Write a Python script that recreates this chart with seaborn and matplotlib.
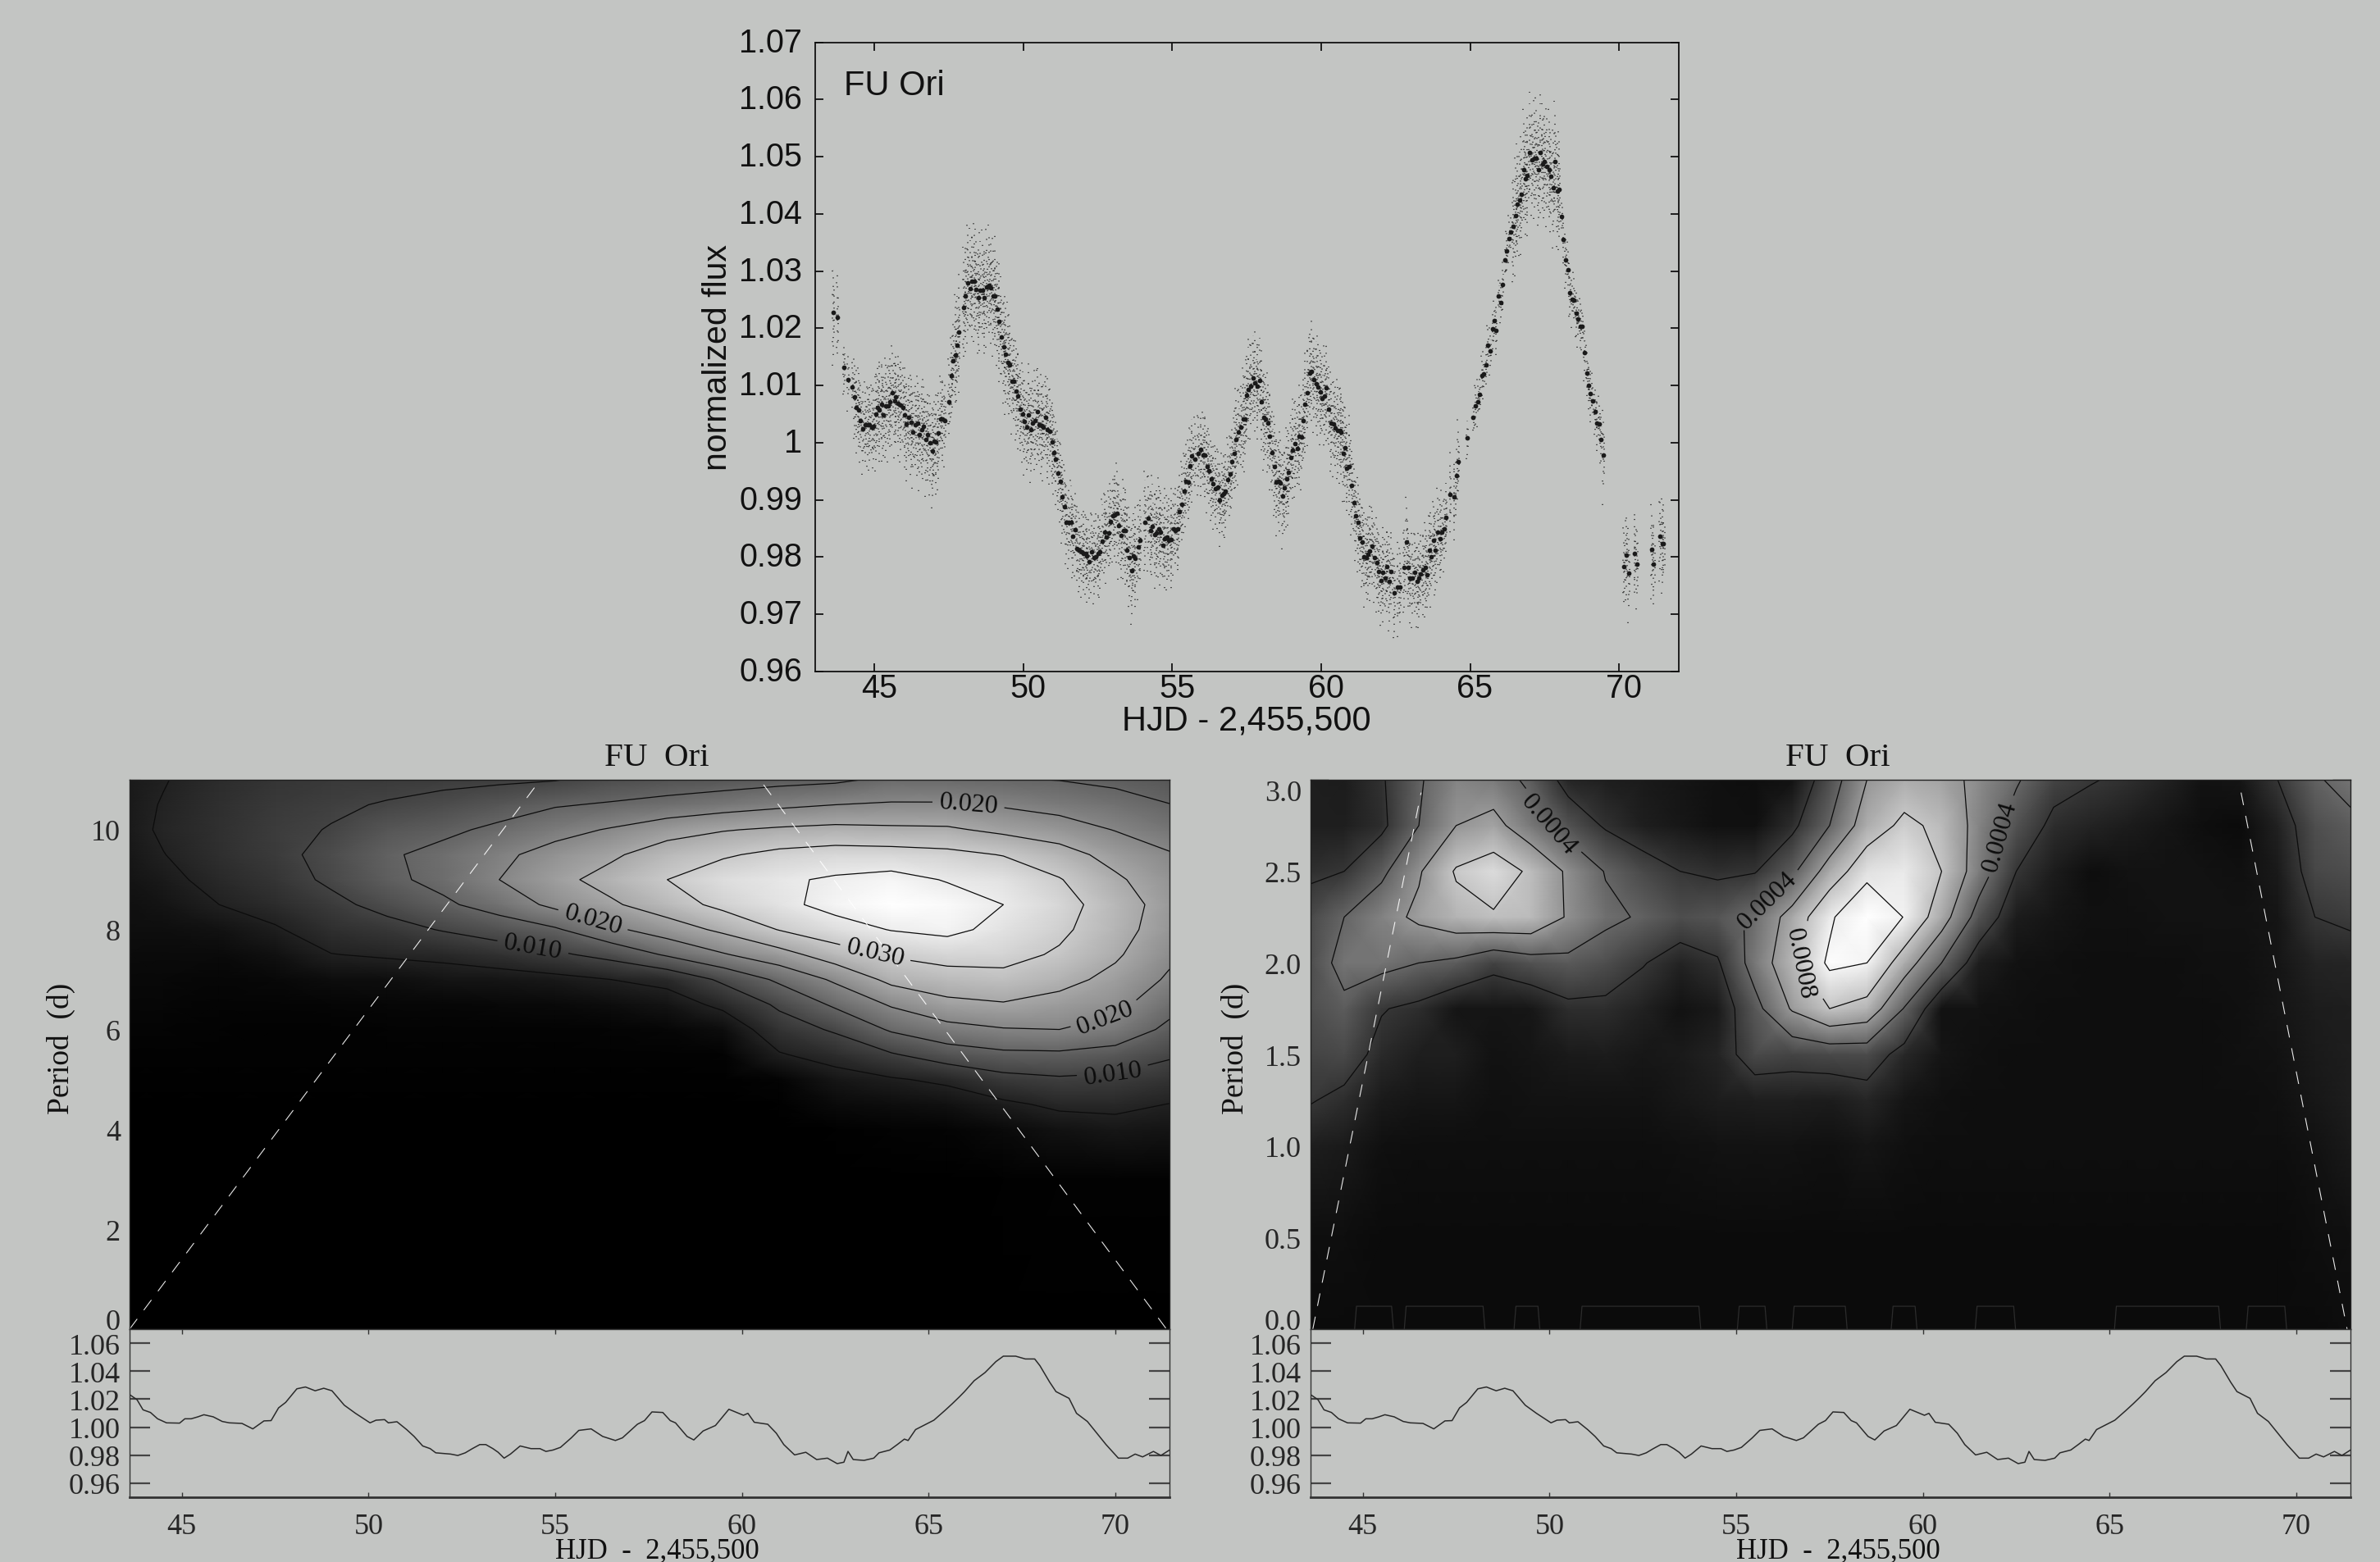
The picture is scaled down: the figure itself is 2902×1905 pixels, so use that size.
import numpy as np
import matplotlib
matplotlib.use("Agg")
import matplotlib.pyplot as plt
import matplotlib.transforms as mtrans
from matplotlib.ticker import MultipleLocator
import seaborn as sns

# binned light curve, top panel
flux_day = [43.61, 43.76, 43.97, 44.11, 44.26, 44.33, 44.40, 44.46, 44.53, 44.61, 44.69, 44.76, 44.83, 44.90, 44.97,
            45.04, 45.10, 45.17, 45.25, 45.30, 45.38, 45.45, 45.52, 45.60, 45.67, 45.72, 45.80, 45.87, 45.95,
            46.02, 46.08, 46.16, 46.22, 46.29, 46.37, 46.44, 46.51, 46.59, 46.64, 46.72, 46.79, 46.86, 46.94, 46.99,
            47.07, 47.14, 47.21, 47.29, 47.36, 47.50, 47.57, 47.63, 47.71, 47.77, 47.84, 47.99,
            48.06, 48.13, 48.22, 48.28, 48.35, 48.40, 48.48, 48.55, 48.63, 48.69, 48.76, 48.84, 48.91, 48.98,
            49.05, 49.12, 49.19, 49.26, 49.33, 49.40, 49.47, 49.53, 49.61, 49.68, 49.75, 49.82, 49.89, 49.97,
            50.03, 50.10, 50.18, 50.24, 50.31, 50.39, 50.46, 50.53, 50.61, 50.67, 50.74, 50.81, 50.88, 50.96,
            51.02, 51.09, 51.16, 51.23, 51.30, 51.37, 51.44, 51.52, 51.59, 51.65, 51.73, 51.80, 51.87, 51.95,
            52.02, 52.09, 52.13, 52.21, 52.29, 52.37, 52.44, 52.52, 52.57, 52.64, 52.72, 52.79, 52.87, 52.92,
            53.00, 53.07, 53.13, 53.20, 53.28, 53.35, 53.43, 53.48, 53.55, 53.64, 53.69, 53.76, 53.85, 53.92,
            54.07, 54.18, 54.26, 54.33, 54.42, 54.47, 54.54, 54.60, 54.67, 54.75, 54.81, 54.89, 54.97,
            55.04, 55.11, 55.19, 55.23, 55.31, 55.39, 55.46, 55.53, 55.59, 55.66, 55.75, 55.87, 55.96,
            56.03, 56.10, 56.16, 56.23, 56.30, 56.37, 56.44, 56.52, 56.59, 56.66, 56.73, 56.78, 56.86, 56.93,
            57.00, 57.07, 57.14, 57.22, 57.30, 57.37, 57.44, 57.49, 57.56, 57.62, 57.70, 57.78, 57.86, 57.92,
            58.00, 58.06, 58.12, 58.21, 58.27, 58.34, 58.42, 58.49, 58.56, 58.62, 58.70, 58.77, 58.83, 58.90, 58.98,
            59.04, 59.11, 59.19, 59.26, 59.34, 59.40, 59.46, 59.54, 59.60, 59.68, 59.74, 59.82, 59.89, 59.96,
            60.02, 60.10, 60.17, 60.24, 60.33, 60.40, 60.47, 60.55, 60.62, 60.67, 60.74, 60.79, 60.86, 60.94,
            61.01, 61.10, 61.15, 61.23, 61.30, 61.36, 61.44, 61.50, 61.57, 61.63, 61.70, 61.79, 61.86, 61.93,
            62.01, 62.07, 62.14, 62.21, 62.28, 62.35, 62.44, 62.57, 62.64, 62.78, 62.85, 62.91, 62.98,
            63.05, 63.13, 63.21, 63.27, 63.34, 63.42, 63.48, 63.55, 63.62, 63.69, 63.76, 63.82, 63.90, 63.98,
            64.05, 64.12, 64.19, 64.33, 64.47, 64.54, 64.60, 64.89,
            65.10, 65.17, 65.25, 65.31, 65.38, 65.45, 65.52, 65.59, 65.66, 65.74, 65.81, 65.87, 65.94,
            66.02, 66.09, 66.15, 66.22, 66.29, 66.37, 66.43, 66.51, 66.58, 66.65, 66.72, 66.79, 66.86, 66.92,
            67.00, 67.07, 67.15, 67.21, 67.28, 67.36, 67.42, 67.49, 67.57, 67.64, 67.70, 67.78, 67.84, 67.92, 67.98,
            68.05, 68.13, 68.20, 68.27, 68.34, 68.41, 68.48, 68.55, 68.62, 68.69, 68.75, 68.83, 68.91, 68.98,
            69.04, 69.11, 69.18, 69.26, 69.33, 69.39, 69.47,
            70.16, 70.24, 70.31, 70.52, 70.60, 71.08, 71.16, 71.37, 71.44, 71.49]
flux_value = [1.0228, 1.0219, 1.0132, 1.0111, 1.0098, 1.0080, 1.0062, 1.0057, 1.0038, 1.0025, 1.0032, 1.0031, 1.0032, 1.0027, 1.0028,
              1.0050, 1.0061, 1.0058, 1.0067, 1.0049, 1.0065, 1.0065, 1.0071, 1.0087, 1.0073, 1.0080, 1.0069, 1.0066, 1.0062,
              1.0049, 1.0033, 1.0044, 1.0036, 1.0019, 1.0032, 1.0034, 1.0015, 1.0023, 1.0029, 1.0006, 1.0014, 1.0000, 0.9985, 1.0003,
              1.0001, 1.0017, 1.0042, 1.0041, 1.0038, 1.0072, 1.0117, 1.0143, 1.0154, 1.0171, 1.0193, 1.0236,
              1.0257, 1.0280, 1.0269, 1.0282, 1.0283, 1.0268, 1.0254, 1.0267, 1.0267, 1.0254, 1.0273, 1.0275, 1.0271, 1.0257,
              1.0256, 1.0233, 1.0212, 1.0185, 1.0167, 1.0155, 1.0140, 1.0136, 1.0108, 1.0108, 1.0090, 1.0082, 1.0059, 1.0050,
              1.0037, 1.0027, 1.0049, 1.0023, 1.0034, 1.0038, 1.0055, 1.0031, 1.0030, 1.0027, 1.0045, 1.0023, 1.0020, 1.0002,
              0.9983, 0.9972, 0.9947, 0.9933, 0.9905, 0.9888, 0.9861, 0.9861, 0.9861, 0.9836, 0.9848, 0.9815, 0.9812, 0.9810,
              0.9806, 0.9807, 0.9802, 0.9792, 0.9810, 0.9799, 0.9801, 0.9806, 0.9810, 0.9828, 0.9844, 0.9835, 0.9842, 0.9862,
              0.9872, 0.9874, 0.9876, 0.9855, 0.9838, 0.9847, 0.9846, 0.9812, 0.9799, 0.9776, 0.9802, 0.9798, 0.9818, 0.9829,
              0.9861, 0.9868, 0.9847, 0.9854, 0.9839, 0.9842, 0.9850, 0.9844, 0.9821, 0.9832, 0.9835, 0.9829, 0.9831,
              0.9849, 0.9846, 0.9850, 0.9879, 0.9893, 0.9915, 0.9933, 0.9931, 0.9960, 0.9977, 0.9971, 0.9981, 0.9988,
              0.9979, 0.9978, 0.9958, 0.9951, 0.9937, 0.9929, 0.9920, 0.9922, 0.9899, 0.9908, 0.9911, 0.9915, 0.9935, 0.9945,
              0.9967, 0.9982, 1.0006, 1.0019, 1.0027, 1.0042, 1.0042, 1.0083, 1.0093, 1.0099, 1.0113, 1.0105, 1.0099, 1.0109,
              1.0072, 1.0045, 1.0041, 1.0034, 1.0011, 0.9983, 0.9958, 0.9931, 0.9933, 0.9930, 0.9907, 0.9921, 0.9937, 0.9949, 0.9974,
              0.9987, 0.9998, 0.9990, 1.0012, 1.0010, 1.0039, 1.0068, 1.0088, 1.0122, 1.0124, 1.0111, 1.0103, 1.0098, 1.0089,
              1.0077, 1.0081, 1.0096, 1.0059, 1.0035, 1.0033, 1.0026, 1.0022, 1.0022, 1.0018, 0.9982, 0.9991, 0.9956, 0.9959,
              0.9925, 0.9896, 0.9872, 0.9861, 0.9834, 0.9826, 0.9800, 0.9799, 0.9805, 0.9811, 0.9820, 0.9799, 0.9791, 0.9775,
              0.9759, 0.9774, 0.9764, 0.9784, 0.9758, 0.9775, 0.9738, 0.9747, 0.9747, 0.9782, 0.9826, 0.9782, 0.9764,
              0.9763, 0.9774, 0.9757, 0.9763, 0.9770, 0.9778, 0.9782, 0.9769, 0.9812, 0.9800, 0.9829, 0.9812, 0.9843, 0.9832,
              0.9844, 0.9849, 0.9870, 0.9910, 0.9905, 0.9942, 0.9967, 1.0009,
              1.0044, 1.0065, 1.0071, 1.0085, 1.0117, 1.0120, 1.0136, 1.0170, 1.0161, 1.0199, 1.0213, 1.0197, 1.0256,
              1.0245, 1.0276, 1.0320, 1.0335, 1.0357, 1.0368, 1.0379, 1.0397, 1.0417, 1.0424, 1.0435, 1.0478, 1.0462, 1.0468,
              1.0508, 1.0495, 1.0497, 1.0498, 1.0477, 1.0508, 1.0487, 1.0491, 1.0483, 1.0478, 1.0466, 1.0446, 1.0492, 1.0440, 1.0443,
              1.0395, 1.0356, 1.0320, 1.0303, 1.0262, 1.0251, 1.0249, 1.0226, 1.0216, 1.0204, 1.0204, 1.0157, 1.0122, 1.0100,
              1.0086, 1.0073, 1.0055, 1.0035, 1.0033, 1.0006, 0.9978,
              0.9783, 0.9804, 0.9772, 0.9806, 0.9788, 0.9813, 0.9788, 0.9837, 0.9823, 0.9823]

# scatter half width of the unbinned photometry, per stretch of days
cloud_edges = [43.5, 43.9, 44.3, 45.0, 47.2, 47.7, 49.5, 51.0, 53.0, 55.0, 57.0, 58.5, 61.0, 64.0, 64.7, 65.0, 66.4, 68.0, 69.45, 72.0]
cloud_half = [0.0075, 0.0045, 0.0065, 0.0080, 0.0065, 0.0085, 0.0075, 0.0065, 0.0075, 0.0065, 0.0075, 0.0075, 0.0070, 0.0060, 0.0030, 0.0035, 0.0085, 0.0040, 0.0070]

# smoothed curve, strips under the power maps
strip_day = [43.61, 43.80, 43.96, 44.16, 44.35, 44.59, 44.94, 45.08, 45.25, 45.43, 45.59, 45.84, 46.08, 46.27, 46.61, 46.90,
             47.20, 47.39, 47.59, 47.78, 48.08, 48.31, 48.57, 48.80, 49.02, 49.35, 49.65, 50.04, 50.20, 50.43, 50.53, 50.76,
             51.02, 51.22, 51.45, 51.65, 51.80, 52.20, 52.39, 52.59, 52.78, 52.98, 53.14, 53.33, 53.47, 53.63, 53.80, 54.06,
             54.35, 54.59, 54.75, 54.94, 55.14, 55.43, 55.63, 55.96, 56.27, 56.61, 56.80, 57.20, 57.39, 57.59, 57.88, 58.08,
             58.22, 58.53, 58.71, 58.96, 59.29, 59.65, 60.04, 60.16, 60.33, 60.69, 60.92, 61.12, 61.41, 61.71, 62.00, 62.29,
             62.55, 62.73, 62.84, 62.98, 63.27, 63.53, 63.67, 63.96, 64.16, 64.35, 64.45, 64.65, 65.14, 65.43, 65.63, 65.82,
             65.96, 66.22, 66.51, 66.80, 67.00, 67.33, 67.59, 67.84, 67.98, 68.24, 68.41, 68.76, 68.96, 69.25, 69.75, 70.08,
             70.33, 70.53, 70.73, 71.02, 71.22, 71.45]
strip_value = [1.0231, 1.0196, 1.0124, 1.0105, 1.0060, 1.0031, 1.0029, 1.0060, 1.0060, 1.0074, 1.0089, 1.0074, 1.0041, 1.0031, 1.0027, 0.9988,
               1.0045, 1.0047, 1.0138, 1.0177, 1.0274, 1.0287, 1.0260, 1.0278, 1.0260, 1.0157, 1.0099, 1.0031, 1.0050, 1.0054, 1.0031, 1.0039,
               0.9983, 0.9934, 0.9866, 0.9847, 0.9817, 0.9808, 0.9798, 0.9817, 0.9847, 0.9876, 0.9876, 0.9847, 0.9821, 0.9779, 0.9808, 0.9866,
               0.9847, 0.9847, 0.9827, 0.9837, 0.9856, 0.9924, 0.9977, 0.9988, 0.9934, 0.9905, 0.9924, 1.0021, 1.0047, 1.0109, 1.0105, 1.0047,
               1.0031, 0.9934, 0.9909, 0.9973, 1.0012, 1.0128, 1.0085, 1.0099, 1.0035, 1.0021, 0.9957, 0.9876, 0.9802, 0.9821, 0.9769, 0.9779,
               0.9740, 0.9750, 0.9827, 0.9769, 0.9763, 0.9779, 0.9817, 0.9837, 0.9876, 0.9915, 0.9905, 0.9983, 1.0050, 1.0118, 1.0167, 1.0216,
               1.0254, 1.0332, 1.0390, 1.0468, 1.0507, 1.0507, 1.0487, 1.0487, 1.0439, 1.0322, 1.0254, 1.0206, 1.0099, 1.0041, 0.9876, 0.9779,
               0.9779, 0.9808, 0.9788, 0.9827, 0.9798, 0.9837]

# long period map, power in units of 1e-3, one list per day column
long_day = [43.6, 44.5, 46.0, 47.5, 49.0, 50.5, 52.0, 53.5, 55.0, 56.5, 58.0, 59.5, 61.0, 62.5, 64.0, 65.5, 67.0, 68.5, 70.0, 71.45]
long_period = [0, 3, 4, 4.5, 5, 5.5, 6, 6.5, 7, 7.5, 8, 8.5, 9, 9.5, 10, 10.5, 11]
long_power = [
    [0, 0, 0, .1, .2, .4, .7, 1, 1.3, 1.7, 2.1, 2.5, 3, 3.5, 3.9, 4, 4],
    [0, 0, 0, .1, .2, .4, .6, .9, 1.2, 1.6, 2.2, 3, 4, 4.9, 5.5, 5.2, 4.8],
    [0, 0, 0, .1, .2, .3, .5, .7, 1, 1.6, 2.8, 5, 6.2, 7, 7.2, 7, 6.6],
    [0, 0, 0, .1, .2, .3, .4, .6, 1.2, 2.6, 4.6, 6.6, 8, 8.8, 9, 8.6, 8],
    [0, 0, .1, .1, .2, .3, .4, .8, 2, 4.9, 7, 8.8, 10.8, 11.3, 10.2, 9.4, 8.6],
    [0, 0, .1, .1, .2, .3, .5, .9, 2.2, 5.5, 8.3, 11.5, 14, 14.4, 12.8, 10.3, 8.7],
    [0, 0, .1, .1, .2, .3, .5, 1, 3, 6, 10.3, 14.2, 16.3, 16.4, 14, 11.4, 9],
    [0, 0, .1, .1, .2, .3, .5, 1.2, 3.2, 7.3, 12.3, 17, 20, 19, 16, 12.8, 9.3],
    [0, 0, .1, .1, .2, .3, .5, 1.4, 3.8, 9.2, 14.4, 21.2, 23.6, 21.8, 18.4, 14.6, 9.8],
    [0, 0, .1, .1, .2, .3, .6, 2, 5, 11.5, 19, 24.3, 26.8, 24.2, 20.4, 15.5, 11.5],
    [0, 0, .1, .1, .2, .4, 1, 3, 6.2, 15.6, 22.5, 27.7, 30, 27.6, 23, 16.5, 12.4],
    [0, 0, .1, .1, .2, .5, 2, 6, 10.9, 19.6, 26, 31.3, 33, 29.4, 24.7, 17.8, 12.8],
    [0, 0, .1, .2, .6, 4.7, 7.7, 10.8, 15.9, 23.1, 30.2, 33.8, 34.3, 31.3, 25.7, 19, 13.6],
    [0, .1, .2, 1.5, 3.3, 6.7, 10.6, 15.8, 20.8, 27.6, 33, 36.5, 35.6, 32.2, 26.3, 20, 14.2],
    [0, .1, .5, 2, 4.6, 9.6, 15.6, 20.5, 26.3, 30.5, 35.2, 38, 36.6, 32, 25.9, 20.5, 16],
    [0, .1, .7, 2.6, 5.8, 12.6, 18.3, 23.8, 27.8, 31.9, 36.2, 37.2, 34.7, 31.3, 25.7, 20.5, 15.8],
    [0, .2, 1.5, 4.2, 8.5, 14, 19.7, 24.6, 28.6, 31.6, 33.6, 35, 33.6, 29.8, 23.9, 19.5, 15.3],
    [0, .3, 2.8, 5.8, 9.4, 14.2, 20, 23.2, 26.6, 29.4, 31, 32, 30.3, 27, 22.4, 18.2, 14.9],
    [0, .4, 3.5, 6, 9, 13.2, 18.2, 21.4, 23.6, 25.7, 27, 27.4, 25.8, 23.3, 19.8, 16.9, 14],
    [0, .4, 3, 4.9, 7.7, 10.6, 13.9, 16.6, 19.3, 21, 22.4, 23, 22, 20.4, 17.5, 15.1, 13],
]

# short period map, power in units of 1e-4
short_day = [43.6, 44.5, 45.5, 46.5, 47.5, 48.5, 49.5, 50.5, 51.5, 52.5, 53.5, 54.5, 55.5, 56.5, 57.5, 58.5, 59.5, 60.5,
             61.5, 62.5, 63.5, 64.5, 65.5, 66.5, 67.5, 68.5, 69.5, 70.5, 71.45]
short_period = [0, .5, 1, 1.25, 1.5, 1.75, 2, 2.25, 2.5, 2.75, 3]
short_power = [
    [.2, .3, 1, 2.1, 2.6, 3, 3, 2.8, 1.7, 1, 1],
    [.2, .3, .8, 1.6, 2.8, 3.6, 4.6, 4, 2, 1, .9],
    [.2, .2, .4, .8, 1.5, 2.1, 4.6, 5.2, 3.6, 1.6, 1.8],
    [.2, .2, .3, .6, 1, 1.6, 4, 6.4, 5.8, 4, 3.8],
    [.2, .2, .3, .6, 1, .6, 3.6, 7.3, 8.2, 6, 5.3],
    [.2, .2, .3, .4, .5, .6, 2.5, 7.8, 9, 6.6, 4.9],
    [.2, .2, .3, .5, .6, .7, 3.2, 7.6, 7.7, 4.8, 3.6],
    [.2, .2, .3, .5, .8, 1.6, 3.5, 5.8, 5.7, 3.2, 1.3],
    [.2, .2, .3, .5, .9, 1.6, 3, 4.4, 3.9, 1.8, 1],
    [.2, .2, .3, .5, .7, 1.1, 2.1, 3.8, 2.8, 1, .8],
    [.2, .2, .4, .7, .8, .5, 1.2, 3, 2, .7, .6],
    [.2, .2, .5, .9, 1.2, .8, 1.8, 3.3, 1.7, .4, .4],
    [.2, .2, .5, 1, 2.8, 3.4, 4.8, 4.3, 1.9, .4, .3],
    [.2, .2, .5, 1, 2.6, 6.2, 7.4, 6.8, 3.6, 1.6, .5],
    [.2, .2, .4, .9, 2.8, 8, 10.4, 9.6, 6.9, 4, 3],
    [.2, .2, .6, 1.3, 2.9, 7.3, 10, 12.4, 9.2, 7, 6],
    [.2, .2, .4, .6, 1.4, 3.9, 7, 9.9, 9.6, 8.4, 7],
    [.2, .2, .3, .4, .6, .5, 4, 6.9, 8, 7.6, 6.6],
    [.2, .2, .3, .3, .4, .5, 1, 3.2, 5, 5.3, 5.6],
    [.2, .2, .3, .3, .3, .4, .5, .9, 2, 3.2, 4.2],
    [.2, .2, .3, .3, .3, .3, .4, .6, .9, 1.6, 2.6],
    [.2, .2, .3, .3, .3, .3, .3, .4, .3, 1.2, 2.1],
    [.2, .2, .3, .3, .3, .3, .3, .4, .5, .9, 1.7],
    [.2, .2, .3, .3, .3, .3, .3, .5, .5, .6, 1.1],
    [.2, .2, .3, .3, .3, .3, .4, .5, .5, .3, .5],
    [.2, .2, .3, .3, .4, .4, .4, .5, .4, .2, .6],
    [.2, .2, .3, .4, .5, .6, .6, .6, .8, 1.1, 2],
    [.2, .3, .5, .7, .8, .9, 1.2, 2, 2.7, 3, 3.8],
    [.3, .4, .8, 1, 1, 1, 1.3, 2.3, 3, 3.6, 4.6],
]

# faint arches along the bottom of the short period map
arch_start = [44.78, 46.11, 49.05, 50.82, 55.03, 56.50, 59.15, 61.40, 65.13, 68.66]
arch_end = [45.82, 48.27, 49.74, 54.05, 55.82, 57.97, 59.84, 62.48, 67.97, 69.74]
arch_top = 0.125

# cone of influence
long_cone_left = ([43.6, 54.5], [0, 10.9])
long_cone_right = ([60.58, 71.37], [10.9, 0])
short_cone_left = ([43.66, 46.56], [0, 2.93])
short_cone_right = ([68.52, 71.36], [2.93, 0])

day_ticks = [45, 50, 55, 60, 65, 70]
flux_ticks = [0.96, 0.97, 0.98, 0.99, 1, 1.01, 1.02, 1.03, 1.04, 1.05, 1.06, 1.07]
flux_labels = ["0.96", "0.97", "0.98", "0.99", "1", "1.01", "1.02", "1.03", "1.04", "1.05", "1.06", "1.07"]
strip_ticks = [0.96, 0.98, 1.00, 1.02, 1.04, 1.06]
long_ticks = [0, 2, 4, 6, 8, 10]
short_ticks = [0.0, 0.5, 1.0, 1.5, 2.0, 2.5, 3.0]

BG = "#c3c5c3"
SERIF = "Liberation Serif"
SANS = "Liberation Sans"
W, H = 2902, 1906

sns.set_theme(style="ticks")
plt.rcParams["font.family"] = [SERIF, "DejaVu Serif"]
plt.rcParams["axes.facecolor"] = BG
plt.rcParams["figure.facecolor"] = BG

fig = plt.figure(figsize=(W / 100, H / 100), dpi=100)


def px_axes(left, top, right, bottom):
    return fig.add_axes([left / W, 1 - bottom / H, (right - left) / W, (bottom - top) / H])


# ----- top light curve -----
ax = px_axes(993.6, 52.7, 2047, 820)
day_arr = np.array(flux_day)
flux_arr = np.array(flux_value)
half = np.array(cloud_half)[np.searchsorted(cloud_edges, day_arr) - 1]
outer_dash = [(0, (.8, 6)), (3, (.8, 8)), (5, (.8, 5)), (1, (.8, 9)), (4, (.8, 7))]
inner_dash = [(2, (.8, 4)), (0, (.8, 6)), (4, (.8, 3.5)), (3, (.8, 5))]
fringe_dash = [(0, (.8, 18)), (7, (.8, 25)), (12, (.8, 15))]
ax.vlines(day_arr, flux_arr - half, flux_arr + half, colors="k", linewidths=1.1, linestyles=outer_dash, alpha=.9)
ax.vlines(day_arr + .03, flux_arr - half * .55, flux_arr + half * .55, colors="k", linewidths=1.1,
          linestyles=inner_dash, alpha=.9)
ax.vlines(day_arr - .02, flux_arr - half * 1.25, flux_arr + half * 1.25, colors="k", linewidths=1.1,
          linestyles=fringe_dash, alpha=.9)
sns.scatterplot(x=flux_day, y=flux_value, ax=ax, color="k", s=17, linewidth=0, zorder=3)
ax.set_xlim(43, 72)
ax.set_ylim(0.96, 1.07)
ax.set_xticks(day_ticks)
ax.set_yticks(flux_ticks)
ax.set_yticklabels(flux_labels)
ax.tick_params(direction="in", top=True, right=True, length=7.5, width=1.3, labelsize=28.5, colors="#111")
ax.tick_params(axis="x", pad=1)
ax.tick_params(axis="y", pad=11)
for tick_label in ax.get_yticklabels() + ax.get_xticklabels():
    tick_label.set_family(SANS)
up = mtrans.ScaledTranslation(0, 3 / 72, fig.dpi_scale_trans)
for tick_label in ax.get_yticklabels():
    tick_label.set_transform(tick_label.get_transform() + up)
right_shift = mtrans.ScaledTranslation(4 / 72, 0, fig.dpi_scale_trans)
for tick_label in ax.get_xticklabels():
    tick_label.set_transform(tick_label.get_transform() + right_shift)
for spine in ax.spines.values():
    spine.set_linewidth(1.3)
    spine.set_color("#111")
fig.text(1029 / W, 1 - 105 / H, "FU Ori", family=SANS, fontsize=30, va="center", color="#111")
fig.text(1520 / W, 1 - 880 / H, "HJD - 2,455,500", family=SANS, fontsize=30, ha="center", va="center", color="#111")
fig.text(875 / W, 1 - 436 / H, "normalized flux", family=SANS, fontsize=29.5, rotation=90, ha="center", va="center", color="#111")


def draw_map(left, right, days, periods, power, scale, vmin, vmax, levels, ymax, yticks, ylabels, minor, fmt, spots, cones):
    map_ax = px_axes(left, 952, right, 1622)
    z = np.array(power).T * scale
    map_ax.pcolormesh(days, periods, z, shading="gouraud", cmap="gray", vmin=vmin * scale, vmax=vmax * scale)
    cs = map_ax.contour(days, periods, z, levels=levels, colors="#0c0c0c", linewidths=.9)
    labels = map_ax.clabel(cs, fmt=fmt, fontsize=23, inline=True, inline_spacing=8, manual=spots)
    for t in labels:
        t.set_color("#0c0c0c")
    for cone in cones:
        sns.lineplot(x=cone[0], y=cone[1], ax=map_ax, color="white", linewidth=.8, estimator=None, sort=False,
                     linestyle=(0, (14, 12)), alpha=.9)
    map_ax.set_xlim(43.6, 71.45)
    map_ax.set_ylim(0, ymax)
    map_ax.set_xlabel("")
    map_ax.set_ylabel("")
    map_ax.set_xticks(day_ticks)
    map_ax.xaxis.set_minor_locator(MultipleLocator(.5))
    map_ax.set_yticks(yticks)
    map_ax.set_yticklabels(ylabels)
    map_ax.yaxis.set_minor_locator(MultipleLocator(minor))
    map_ax.tick_params(axis="x", which="major", direction="in", top=True, bottom=False, labelbottom=False, length=6, width=1, color="#222")
    map_ax.tick_params(axis="x", which="minor", direction="in", top=True, bottom=False, length=3.5, width=.8, color="#222")
    map_ax.tick_params(axis="y", which="major", direction="in", right=True, length=16, width=1, color="#222", labelsize=26, pad=8)
    map_ax.tick_params(axis="y", which="minor", direction="in", right=True, length=9, width=.8, color="#222")
    for spine in map_ax.spines.values():
        spine.set_linewidth(1)
        spine.set_color("#222")
    # the end labels sit inside the axis height, clear of the strip below
    map_ax.get_yticklabels()[0].set_va("baseline")
    if ymax == 3:
        map_ax.get_yticklabels()[-1].set_va("top")
    return map_ax


def draw_strip(left, right):
    strip = px_axes(left, 1622, right, 1827)
    sns.lineplot(x=strip_day, y=strip_value, ax=strip, color="#2a2a2a", linewidth=1.1, estimator=None, sort=False)
    strip.set_xlim(43.6, 71.45)
    strip.set_ylim(0.95, 1.07)
    strip.set_xticks(day_ticks)
    strip.set_yticks(strip_ticks)
    strip.set_yticklabels(["%.2f" % v for v in strip_ticks])
    strip.tick_params(axis="x", direction="in", top=True, length=4.5, width=1, color="#333", labelsize=26, pad=14)
    strip.tick_params(axis="y", direction="in", right=True, length=18, width=1.6, color="#444", labelsize=26, pad=8)
    for name, spine in strip.spines.items():
        spine.set_linewidth(2 if name == "bottom" else 1)
        spine.set_color("#333")
    mid = (left + right) / 2 + 9
    fig.text(mid / W, 1 - 1901 / H, "HJD  -  2,455,500", fontsize=25, ha="center", va="baseline", color="#111")
    fig.text(mid / W, 1 - 925 / H, "FU  Ori", fontsize=29.5, ha="center", va="center", color="#111")
    fig.text((left - 84) / W if left < 500 else (left - 92) / W, 1 - 1279 / H, "Period  (d)", fontsize=27, rotation=90,
             ha="center", va="center", color="#111")


# ----- long period map, left -----
long_spots = [(66.07, 10.55), (56.0, 8.17), (54.4, 7.65), (63.56, 7.5), (69.74, 6.23), (69.93, 5.16)]
ax_l = draw_map(158, 1426, long_day, long_period, long_power, 1e-3, 0, 38,
                [.005, .010, .015, .020, .025, .030, .035], 11, long_ticks, ["%d" % v for v in long_ticks],
                .5, "%.3f", long_spots, [long_cone_left, long_cone_right])
draw_strip(158, 1426)

# ----- short period map, right -----
short_spots = [(49.93, 2.75), (55.76, 2.36), (61.93, 2.70), (56.7, 2.0)]
ax_r = draw_map(1598, 2866, short_day, short_period, short_power, 1e-4, -.3, 10.5,
                [.0002, .0004, .0006, .0008, .0010], 3, short_ticks, ["%.1f" % v for v in short_ticks],
                .1, "%.4f", short_spots, [short_cone_left, short_cone_right])
for s, e in zip(arch_start, arch_end):
    ax_r.plot([s, s + .05, e - .05, e], [0, arch_top, arch_top, 0], color="#2c2c2c", linewidth=.9)
draw_strip(1598, 2866)

fig.savefig("out.png", dpi=100, facecolor=BG)
